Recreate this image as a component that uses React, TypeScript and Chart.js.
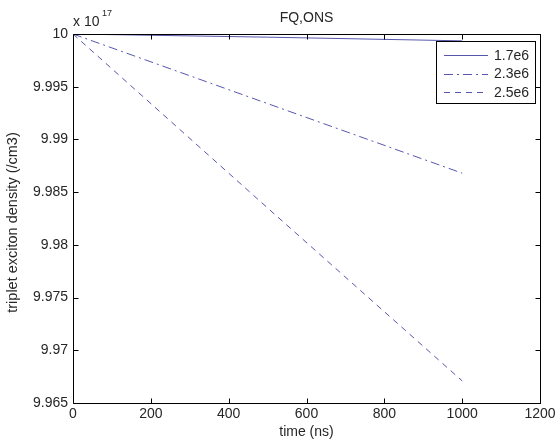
import React, { useEffect, useRef } from "react";
import { Chart, registerables } from "chart.js";
Chart.register(...registerables);

const chartTitle = "FQ,ONS";
const xLabel = "time (ns)";
const yLabel = "triplet exciton density (/cm3)";
const yExponent = "17";
const times = [0, 500, 1000];
const series17 = [10, 9.9997, 9.99935];
const series23 = [10, 9.9934, 9.9868];
const series25 = [10, 9.9835, 9.9671];
const seriesLabels = ["1.7e6", "2.3e6", "2.5e6"];
const xTicks = [0, 200, 400, 600, 800, 1000, 1200];
const yTicks = [9.965, 9.97, 9.975, 9.98, 9.985, 9.99, 9.995, 10];

const FONT = "'Liberation Sans', Arial, sans-serif";
const TEXT = "#262626";
const LINE = "#5656ae";

const decor = {
  id: "decor",
  afterDraw(chart: any) {
    const ctx = chart.ctx as CanvasRenderingContext2D;
    const a = chart.chartArea;
    const xs = chart.scales.x;
    const ys = chart.scales.y;
    ctx.save();
    // box
    ctx.strokeStyle = "#000";
    ctx.lineWidth = 1;
    const L = Math.round(a.left) + 0.5, R = Math.round(a.right) + 0.5;
    const T = Math.round(a.top) + 0.5, B = Math.round(a.bottom) + 0.5;
    ctx.beginPath();
    ctx.rect(L, T, R - L, B - T);
    ctx.stroke();
    // ticks inward
    const tl = 5;
    ctx.beginPath();
    xTicks.forEach((v) => {
      const px = Math.round(xs.getPixelForValue(v)) + 0.5;
      ctx.moveTo(px, B); ctx.lineTo(px, B - tl);
      ctx.moveTo(px, T); ctx.lineTo(px, T + tl);
    });
    yTicks.forEach((v) => {
      const py = Math.round(ys.getPixelForValue(v)) + 0.5;
      ctx.moveTo(L, py); ctx.lineTo(L + tl, py);
      ctx.moveTo(R, py); ctx.lineTo(R - tl, py);
    });
    ctx.stroke();

    ctx.fillStyle = TEXT;
    ctx.font = `14px ${FONT}`;
    // title
    ctx.textAlign = "center";
    ctx.textBaseline = "middle";
    ctx.fillText(chartTitle, (a.left + a.right) / 2, 18);
    // x label
    ctx.fillText(xLabel, (a.left + a.right) / 2, 432);
    // y label
    ctx.save();
    ctx.translate(13, (a.top + a.bottom) / 2 + 4);
    ctx.rotate(-Math.PI / 2);
    ctx.font = `14.5px ${FONT}`;
    ctx.fillText(yLabel, 0, 0);
    ctx.restore();
    // exponent
    ctx.textAlign = "left";
    ctx.fillText("x 10", a.left, 22);
    ctx.font = `9px ${FONT}`;
    ctx.fillText(yExponent, a.left + 29, 14);

    // legend
    const bx = 436, by = 41, bw = 99, bh = 62;
    ctx.fillStyle = "#fff";
    ctx.fillRect(bx, by, bw, bh);
    ctx.strokeStyle = "#000";
    ctx.strokeRect(bx + 0.5, by + 0.5, bw, bh);
    ctx.font = `14px ${FONT}`;
    chart.data.datasets.forEach((ds: any, i: number) => {
      const y = by + 14 + i * 18.5;
      ctx.strokeStyle = ds.borderColor;
      ctx.lineWidth = 1;
      ctx.setLineDash(ds.borderDash || []);
      ctx.beginPath();
      ctx.moveTo(bx + 8, Math.round(y) + 0.5);
      ctx.lineTo(bx + 52, Math.round(y) + 0.5);
      ctx.stroke();
      ctx.setLineDash([]);
      ctx.fillStyle = TEXT;
      ctx.textAlign = "left";
      ctx.textBaseline = "middle";
      ctx.fillText(ds.label, bx + 58, y + 1);
    });
    ctx.restore();
  },
};

export default function App() {
  const ref = useRef<HTMLCanvasElement>(null);
  useEffect(() => {
    if (!ref.current) return;
    const mk = (vals: number[]) => times.map((t, i) => ({ x: t, y: vals[i] }));
    const chart = new Chart(ref.current, {
      type: "line",
      data: {
        datasets: [
          { label: seriesLabels[0], data: mk(series17), borderColor: LINE, borderWidth: 1, pointRadius: 0, fill: false },
          { label: seriesLabels[1], data: mk(series23), borderColor: LINE, borderWidth: 1, borderDash: [9, 4, 2, 4], pointRadius: 0, fill: false },
          { label: seriesLabels[2], data: mk(series25), borderColor: LINE, borderWidth: 1, borderDash: [6, 5], pointRadius: 0, fill: false },
        ],
      },
      options: {
        animation: false,
        responsive: false,
        layout: { padding: { top: 34, right: 19, left: 0, bottom: 0 } },
        plugins: { legend: { display: false }, title: { display: false }, tooltip: { enabled: false } },
        scales: {
          x: {
            type: "linear",
            min: 0,
            max: 1200,
            grid: { display: false, drawTicks: false },
            border: { display: false },
            afterBuildTicks: (s: any) => { s.ticks = xTicks.map((v) => ({ value: v })); },
            afterFit: (s: any) => { s.height = 40; },
            ticks: { padding: 3, maxRotation: 0, autoSkip: false, color: TEXT, font: { family: FONT, size: 14 }, callback: (v: any) => String(v) },
          },
          y: {
            type: "linear",
            min: 9.965,
            max: 10,
            grid: { display: false, drawTicks: false },
            border: { display: false },
            afterBuildTicks: (s: any) => { s.ticks = yTicks.map((v) => ({ value: v })); },
            afterFit: (s: any) => { s.width = 73; },
            ticks: { padding: 5, autoSkip: false, color: TEXT, font: { family: FONT, size: 14 }, callback: (v: any) => String(parseFloat(Number(v).toFixed(3))) },
          },
        },
      },
      plugins: [decor],
    });
    return () => chart.destroy();
  }, []);
  return (
    <div style={{ position: "absolute", left: 0, top: 0, width: 559, height: 443, background: "#fff" }}>
      <canvas ref={ref} width={559} height={443} style={{ display: "block" }} />
    </div>
  );
}
